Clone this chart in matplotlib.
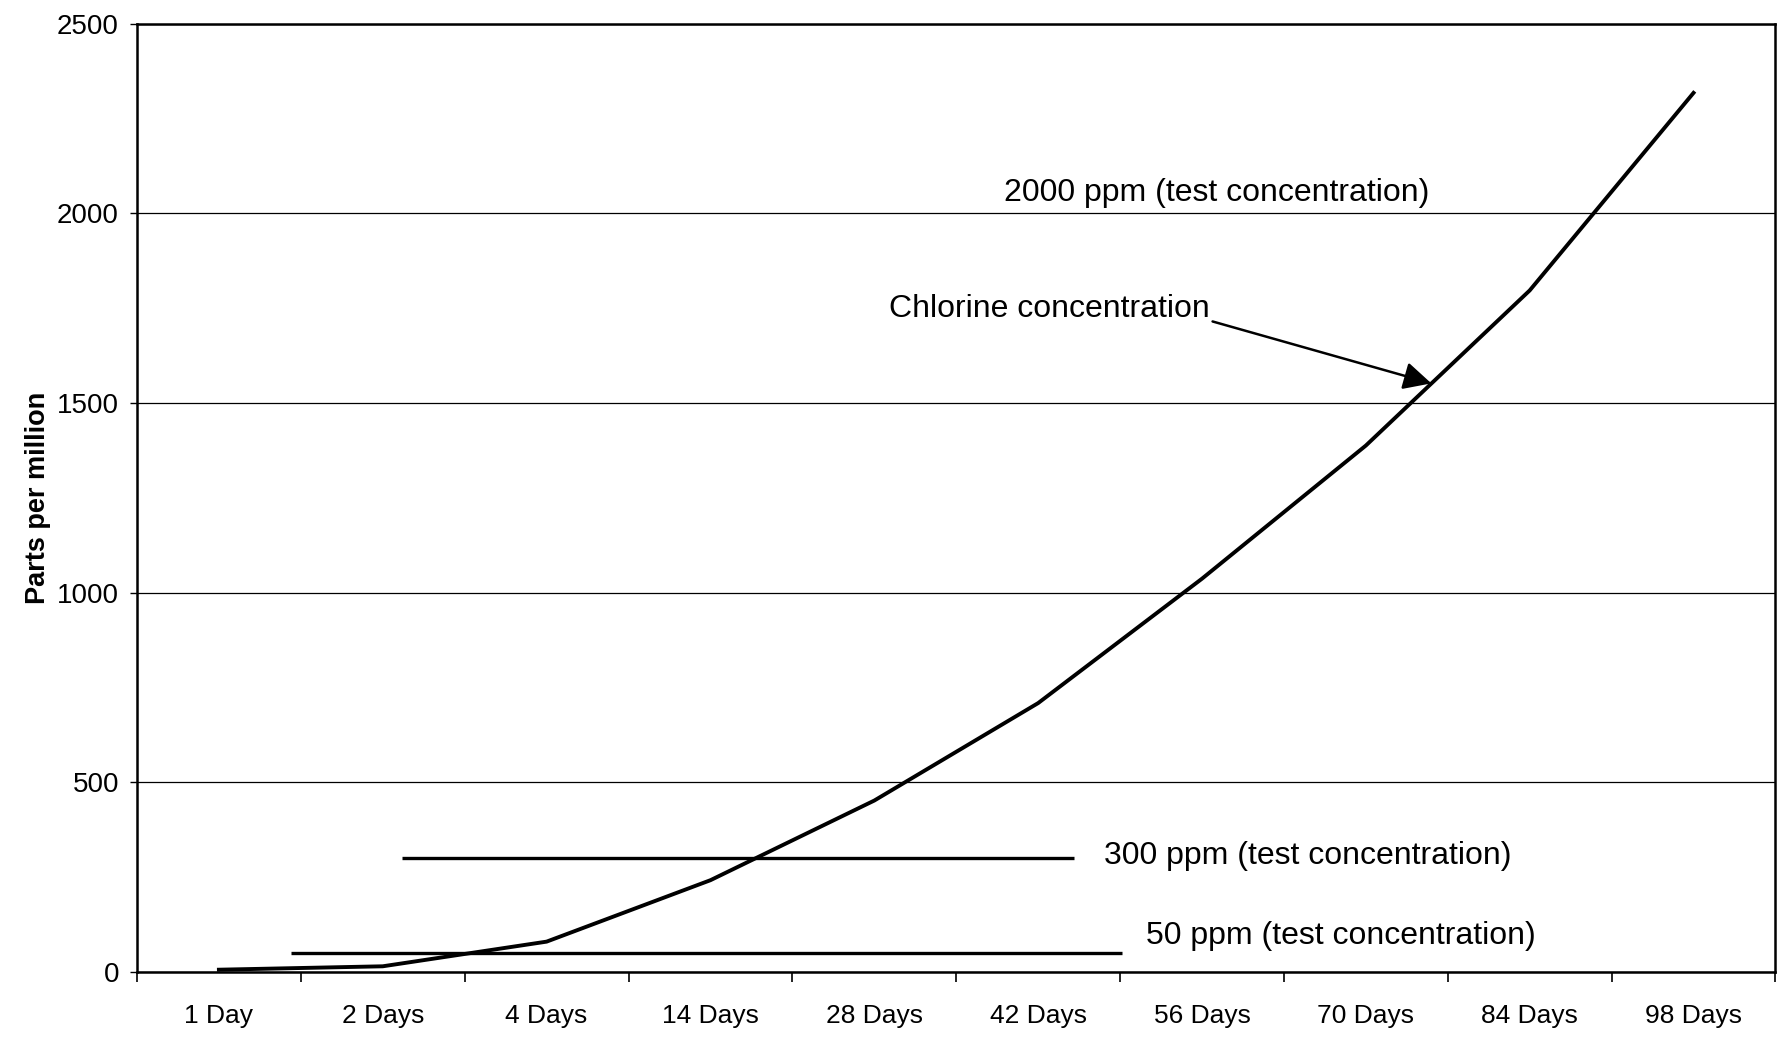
import matplotlib
matplotlib.use("Agg")
import matplotlib.pyplot as plt
import numpy as np

categories = ["1 Day", "2 Days", "4 Days", "14 Days", "28 Days", "42 Days",
              "56 Days", "70 Days", "84 Days", "98 Days"]
chlorine_ppm = [6, 15, 80, 242, 452, 709, 1037, 1388, 1797, 2318]
test_levels = [300, 50]
test_labels = ["300 ppm (test concentration)", "50 ppm (test concentration)"]
top_label = "2000 ppm (test concentration)"
yticks = [0, 500, 1000, 1500, 2000, 2500]

plt.rcParams['font.family'] = ['Liberation Sans', 'DejaVu Sans']

fig = plt.figure(figsize=(17.79, 10.37), dpi=100)
ax = fig.add_axes([0.077, 0.0627, 0.921, 0.9143])

x = np.arange(len(categories))
ax.plot(x, chlorine_ppm, color='black', lw=2.8, zorder=3)

# horizontal test-concentration lines
ax.hlines(test_levels[0], 1.12, 5.22, color='black', lw=2.4, zorder=2)
ax.hlines(test_levels[1], 0.44, 5.51, color='black', lw=2.4, zorder=2)

ax.set_xlim(-0.5, len(categories) - 0.5)
ax.set_ylim(0, 2500)
ax.set_yticks(yticks)
ax.set_yticklabels([str(v) for v in yticks], fontsize=20)
ax.set_xticks(x)
ax.set_xticklabels(categories, fontsize=19)
ax.tick_params(axis='x', which='major', length=0, pad=23)
ax.set_xticks(np.arange(-0.5, len(categories)), minor=True)
ax.tick_params(axis='x', which='minor', length=7, width=1.2, direction='out')
ax.tick_params(axis='y', length=5, width=1.0, direction='out', pad=8)

ax.yaxis.grid(True, color='black', lw=0.9)
ax.set_axisbelow(True)
for s in ax.spines.values():
    s.set_linewidth(1.8)

ax.set_ylabel("Parts per million", fontsize=19.5, fontweight='bold', labelpad=4)

ax.text(4.79, 2054, top_label, fontsize=23, va='center', ha='left')
ax.text(5.40, 305, test_labels[0], fontsize=23, va='center', ha='left')
ax.text(5.66, 96, test_labels[1], fontsize=23, va='center', ha='left')

ax.annotate("Chlorine concentration", xy=(7.40, 1552), xytext=(4.09, 1749),
            fontsize=23, va='center', ha='left',
            arrowprops=dict(arrowstyle='-|>,head_length=0.5,head_width=0.25',
                            color='black', lw=1.8,
                            mutation_scale=34, shrinkA=0, shrinkB=0,
                            relpos=(1.0, 0.1)))

fig.savefig("out.png", dpi=100)
